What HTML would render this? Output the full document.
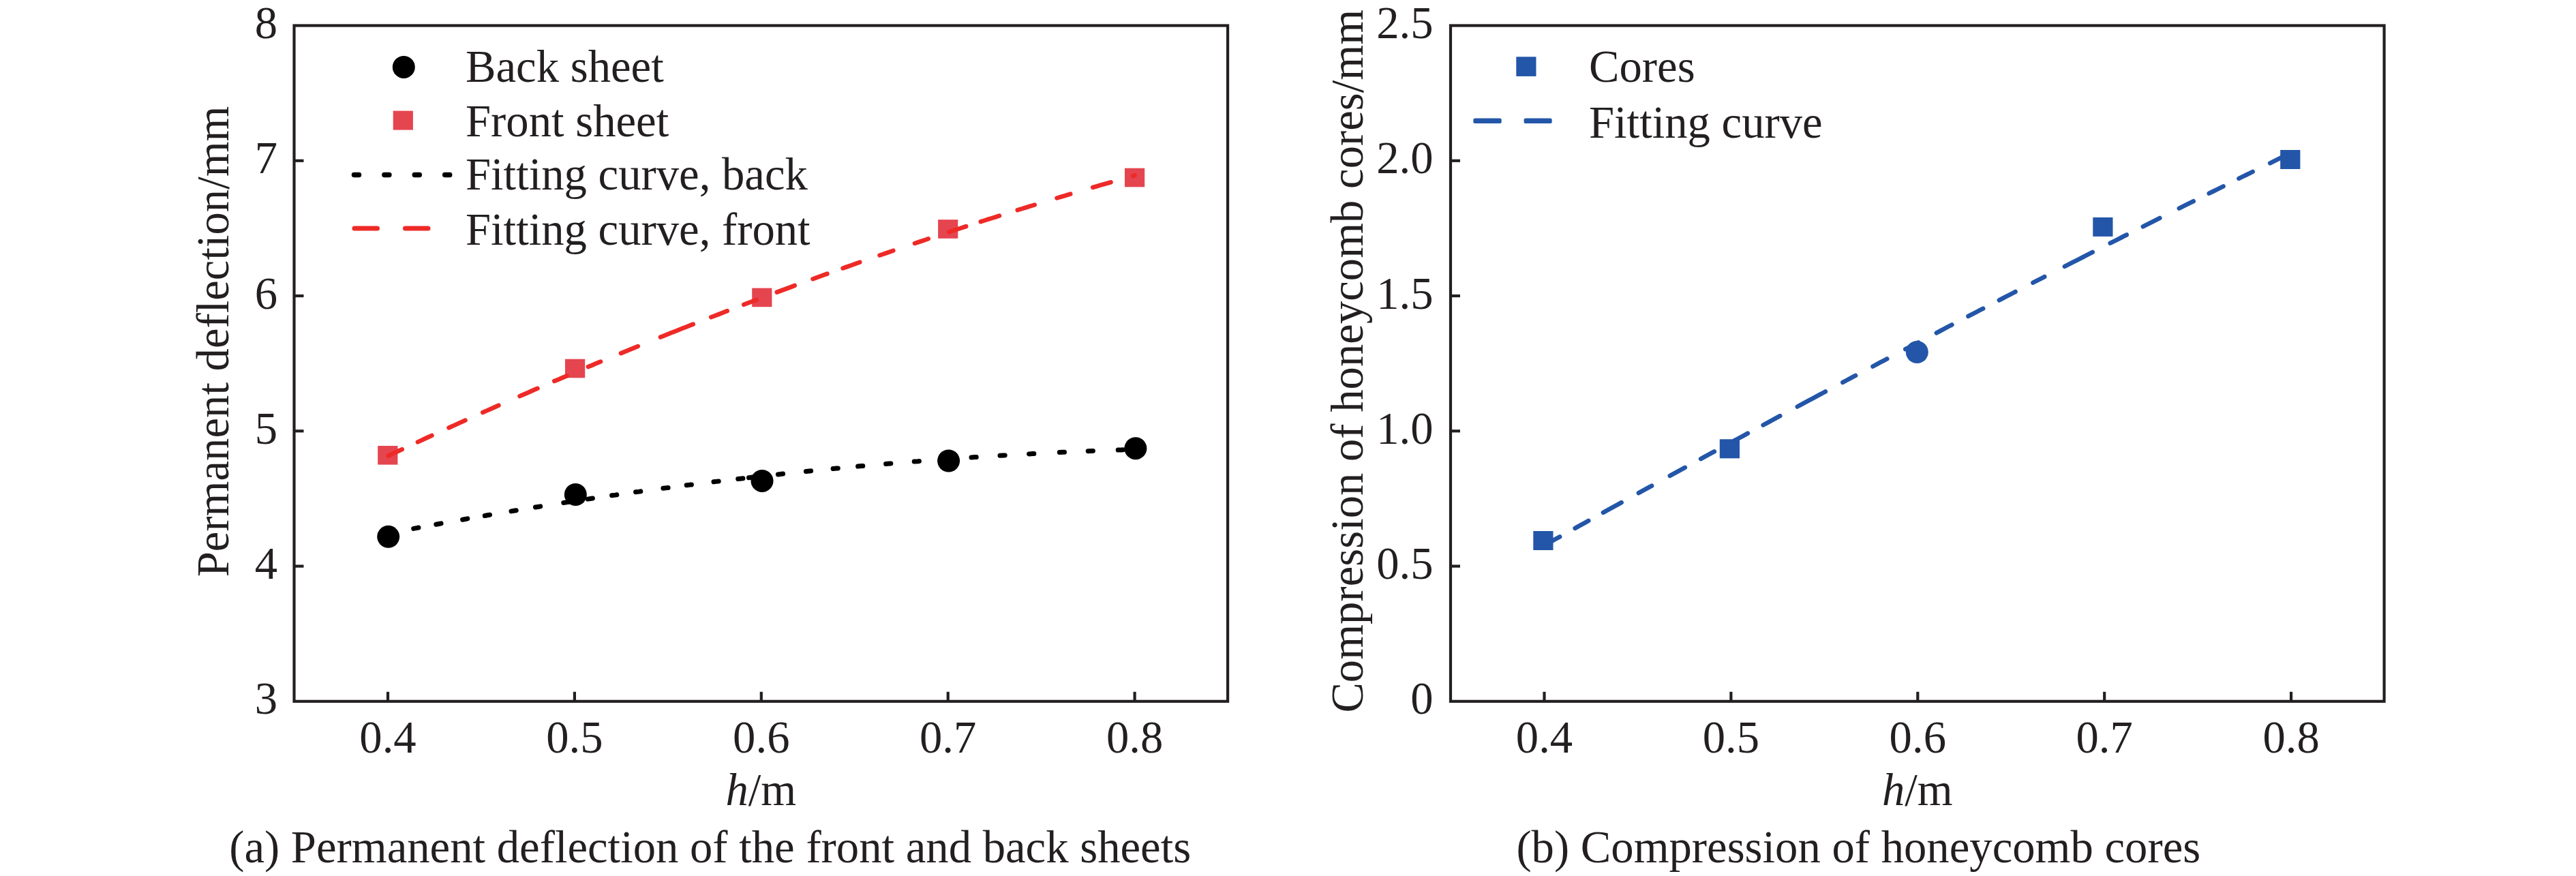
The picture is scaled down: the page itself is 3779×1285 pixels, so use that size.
<!DOCTYPE html>
<html><head><meta charset="utf-8"><style>
html,body{margin:0;padding:0;background:#fff;}
body{width:3779px;height:1285px;overflow:hidden;}
svg{display:block;}
text{font-family:"Liberation Serif",serif;font-size:66.7px;fill:#231F20;}
</style></head><body>
<svg width="3779" height="1285" viewBox="0 0 3779 1285">
<rect x="0" y="0" width="3779" height="1285" fill="#fff"/>
<rect x="431.5" y="37.5" width="1369.60" height="991.30" fill="none" stroke="#231F20" stroke-width="4.2"/>
<line x1="569.00" y1="1028.8" x2="569.00" y2="1014.8" stroke="#231F20" stroke-width="4.2"/>
<line x1="842.90" y1="1028.8" x2="842.90" y2="1014.8" stroke="#231F20" stroke-width="4.2"/>
<line x1="1116.80" y1="1028.8" x2="1116.80" y2="1014.8" stroke="#231F20" stroke-width="4.2"/>
<line x1="1390.70" y1="1028.8" x2="1390.70" y2="1014.8" stroke="#231F20" stroke-width="4.2"/>
<line x1="1664.60" y1="1028.8" x2="1664.60" y2="1014.8" stroke="#231F20" stroke-width="4.2"/>
<line x1="431.5" y1="830.54" x2="445.5" y2="830.54" stroke="#231F20" stroke-width="4.2"/>
<line x1="431.5" y1="632.28" x2="445.5" y2="632.28" stroke="#231F20" stroke-width="4.2"/>
<line x1="431.5" y1="434.02" x2="445.5" y2="434.02" stroke="#231F20" stroke-width="4.2"/>
<line x1="431.5" y1="235.76" x2="445.5" y2="235.76" stroke="#231F20" stroke-width="4.2"/>
<rect x="2128.0" y="37.5" width="1369.60" height="991.30" fill="none" stroke="#231F20" stroke-width="4.2"/>
<line x1="2265.50" y1="1028.8" x2="2265.50" y2="1014.8" stroke="#231F20" stroke-width="4.2"/>
<line x1="2539.40" y1="1028.8" x2="2539.40" y2="1014.8" stroke="#231F20" stroke-width="4.2"/>
<line x1="2813.30" y1="1028.8" x2="2813.30" y2="1014.8" stroke="#231F20" stroke-width="4.2"/>
<line x1="3087.20" y1="1028.8" x2="3087.20" y2="1014.8" stroke="#231F20" stroke-width="4.2"/>
<line x1="3361.10" y1="1028.8" x2="3361.10" y2="1014.8" stroke="#231F20" stroke-width="4.2"/>
<line x1="2128.0" y1="830.54" x2="2142.0" y2="830.54" stroke="#231F20" stroke-width="4.2"/>
<line x1="2128.0" y1="632.28" x2="2142.0" y2="632.28" stroke="#231F20" stroke-width="4.2"/>
<line x1="2128.0" y1="434.02" x2="2142.0" y2="434.02" stroke="#231F20" stroke-width="4.2"/>
<line x1="2128.0" y1="235.76" x2="2142.0" y2="235.76" stroke="#231F20" stroke-width="4.2"/>
<text x="569.00" y="1103.8" text-anchor="middle">0.4</text>
<text x="2265.50" y="1103.8" text-anchor="middle">0.4</text>
<text x="842.90" y="1103.8" text-anchor="middle">0.5</text>
<text x="2539.40" y="1103.8" text-anchor="middle">0.5</text>
<text x="1116.80" y="1103.8" text-anchor="middle">0.6</text>
<text x="2813.30" y="1103.8" text-anchor="middle">0.6</text>
<text x="1390.70" y="1103.8" text-anchor="middle">0.7</text>
<text x="3087.20" y="1103.8" text-anchor="middle">0.7</text>
<text x="1664.60" y="1103.8" text-anchor="middle">0.8</text>
<text x="3361.10" y="1103.8" text-anchor="middle">0.8</text>
<text x="407" y="1047.30" text-anchor="end">3</text>
<text x="407" y="849.04" text-anchor="end">4</text>
<text x="407" y="650.78" text-anchor="end">5</text>
<text x="407" y="452.52" text-anchor="end">6</text>
<text x="407" y="254.26" text-anchor="end">7</text>
<text x="407" y="56.00" text-anchor="end">8</text>
<text x="2102.50" y="1047.30" text-anchor="end">0</text>
<text x="2102.50" y="849.04" text-anchor="end">0.5</text>
<text x="2102.50" y="650.78" text-anchor="end">1.0</text>
<text x="2102.50" y="452.52" text-anchor="end">1.5</text>
<text x="2102.50" y="254.26" text-anchor="end">2.0</text>
<text x="2102.50" y="56.00" text-anchor="end">2.5</text>
<text x="1116.30" y="1181" text-anchor="middle"><tspan font-style="italic">h</tspan>/m</text>
<text x="2812.80" y="1181" text-anchor="middle"><tspan font-style="italic">h</tspan>/m</text>
<text transform="translate(335.3,500.90) rotate(-90)" x="0" y="0" text-anchor="middle">Permanent deflection/mm</text>
<text transform="translate(1998.5,529.80) rotate(-90)" x="0" y="0" text-anchor="middle">Compression of honeycomb cores/mm</text>
<text x="1041.70" y="1264.6" text-anchor="middle">(a) Permanent deflection of the front and back sheets</text>
<text x="2726.30" y="1264.8" text-anchor="middle">(b) Compression of honeycomb cores</text>
<circle cx="569.7" cy="787.3" r="16.5" fill="#000"/>
<circle cx="844.3" cy="725.5" r="16.5" fill="#000"/>
<circle cx="1118.0" cy="705.4" r="16.5" fill="#000"/>
<circle cx="1391.6" cy="676.0" r="16.5" fill="#000"/>
<circle cx="1665.9" cy="657.7" r="16.5" fill="#000"/>
<rect x="554.20" y="654.00" width="29.2" height="27.6" fill="#E5454F"/>
<rect x="829.00" y="526.70" width="29.2" height="27.6" fill="#E5454F"/>
<rect x="1103.20" y="422.60" width="29.2" height="27.6" fill="#E5454F"/>
<rect x="1376.10" y="322.20" width="29.2" height="27.6" fill="#E5454F"/>
<rect x="1650.00" y="246.70" width="29.2" height="27.6" fill="#E5454F"/>
<rect x="2249.30" y="779.00" width="29.2" height="28" fill="#2356A8"/>
<rect x="2522.80" y="644.30" width="29.2" height="28" fill="#2356A8"/>
<circle cx="2812.3" cy="516.5" r="16.5" fill="#2356A8"/>
<rect x="3070.30" y="318.90" width="29.2" height="28" fill="#2356A8"/>
<rect x="3345.20" y="220.00" width="29.2" height="28" fill="#2356A8"/>
<path d="M569.9 668.5 L575.3 665.9 L580.8 663.3 L586.3 660.8 L589.8 659.1M612.9 648.4 L618.3 645.9 L623.8 643.3 L629.3 640.8 L633.5 638.9M658.5 627.4 L663.8 625.1 L669.2 622.6 L674.7 620.1 L680.2 617.6 L682.5 616.6M708.2 605.0 L713.6 602.6 L719.1 600.2 L724.6 597.8 L730.1 595.3 L731.5 594.7M762.5 581.1 L767.9 578.7 L773.3 576.4 L778.8 574.0 L784.3 571.6 L788.5 569.8M813.2 559.1 L818.5 556.9 L824.0 554.5 L829.5 552.2 L831.5 551.3M862.9 538.1 L868.1 535.9 L873.6 533.6 L879.1 531.3 L881.1 530.5M910.9 518.2 L916.3 515.9 L921.8 513.7 L927.3 511.4 L932.7 509.2 L935.8 508.0M968.9 494.6 L974.1 492.5 L979.6 490.3 L985.1 488.1 L990.5 486.0 L996.0 483.8 L1001.5 481.6 L1007.0 479.4 L1012.4 477.3 L1016.8 475.6M1043.2 465.2 L1048.6 463.2 L1054.1 461.1 L1059.6 458.9 L1065.0 456.8 L1066.8 456.2M1091.2 446.8 L1096.5 444.8 L1102.0 442.7 L1107.5 440.7 L1109.8 439.8M1139.7 428.6 L1145.0 426.6 L1150.5 424.6 L1156.0 422.6 L1161.4 420.6 L1165.8 418.9M1192.5 409.2 L1197.9 407.3 L1203.4 405.3 L1208.8 403.3 L1213.5 401.6M1236.5 393.5 L1241.7 391.6 L1247.2 389.7 L1252.7 387.7 L1258.1 385.8 L1261.3 384.7M1290.5 374.5 L1295.7 372.7 L1301.1 370.9 L1306.6 369.0 L1310.3 367.7M1342.0 357.0 L1347.4 355.1 L1352.9 353.3 L1358.4 351.5 L1361.8 350.3M1392.2 340.3 L1397.5 338.5 L1403.0 336.7 L1408.5 335.0 L1414.0 333.2 L1417.2 332.2M1438.7 325.2 L1444.1 323.5 L1449.6 321.7 L1455.1 320.0 L1460.5 318.3 L1466.0 316.5 L1466.0 316.5M1492.7 308.2 L1498.1 306.5 L1503.5 304.8 L1509.0 303.1 L1514.5 301.5 L1517.7 300.5M1550.5 290.5 L1555.9 288.9 L1561.3 287.3 L1566.8 285.7 L1570.3 284.6M1603.2 274.9 L1608.7 273.3 L1614.2 271.7 L1619.7 270.2 L1625.2 268.6 L1629.5 267.3M1662.2 258.0 L1664.6 257.4" fill="none" stroke="#EE2A27" stroke-width="6.5" stroke-linecap="round" stroke-linejoin="round"/>
<path d="M569.5 782.5 L574.8 781.5 L576.7 781.1M606.7 775.4 L612.0 774.4 L613.9 774.0M639.8 769.2 L645.1 768.2 L647.0 767.9M678.6 762.2 L684.0 761.2 L685.8 760.9M711.3 756.5 L716.6 755.5 L718.5 755.2M750.0 749.9 L755.3 749.0 L757.2 748.7M785.5 744.0 L790.9 743.2 L792.7 742.9M826.8 737.5 L832.2 736.6 L834.0 736.4M862.2 732.1 L867.6 731.3 L869.4 731.0M897.6 726.8 L902.9 726.1 L904.8 725.8M932.6 721.8 L937.9 721.1 L939.8 720.8M972.9 716.3 L978.2 715.6 L980.1 715.4M1007.2 711.8 L1012.4 711.1 L1014.4 710.9M1047.0 706.8 L1052.4 706.1 L1054.2 705.9M1082.7 702.5 L1088.0 701.9 L1089.9 701.7M1098.5 700.7 L1103.9 700.0 L1105.7 699.8M1141.4 695.9 L1146.7 695.3 L1148.6 695.1M1182.4 691.5 L1187.7 691.0 L1189.6 690.8M1222.1 687.6 L1227.5 687.0 L1229.3 686.9M1258.6 684.1 L1263.9 683.6 L1265.8 683.5M1299.6 680.5 L1305.0 680.0 L1306.8 679.9M1341.2 677.1 L1346.6 676.7 L1348.4 676.5M1382.5 673.9 L1388.0 673.5 L1389.7 673.4M1425.0 671.0 L1430.4 670.6 L1432.2 670.5M1467.0 668.3 L1472.3 668.0 L1474.2 667.9M1509.6 665.9 L1515.1 665.6 L1516.8 665.5M1554.3 663.6 L1559.7 663.3 L1561.5 663.3M1596.2 661.7 L1601.6 661.5 L1603.4 661.4M1640.2 660.1 L1645.4 659.9 L1647.4 659.8" fill="none" stroke="#000" stroke-width="7" stroke-linecap="round" stroke-linejoin="round"/>
<path d="M2265.7 799.9 L2271.0 797.0 L2276.5 793.9 L2281.9 790.8 L2287.4 787.8 L2288.2 787.4M2310.6 774.9 L2315.9 771.9 L2321.4 768.8 L2326.9 765.8 L2330.3 763.9M2351.9 751.9 L2357.3 748.9 L2362.7 745.9 L2368.2 742.9 L2373.7 739.8 L2378.6 737.1M2403.9 723.1 L2409.3 720.2 L2414.8 717.2 L2420.3 714.1 L2423.1 712.6M2449.8 697.9 L2455.3 694.9 L2460.8 691.9 L2466.3 688.9 L2471.7 685.9 L2471.9 685.8M2495.1 673.2 L2500.5 670.2 L2506.0 667.2 L2511.5 664.2 L2514.9 662.3M2544.2 646.4 L2549.5 643.5 L2555.0 640.6 L2560.5 637.6 L2563.9 635.7M2586.6 623.5 L2592.0 620.6 L2597.5 617.6 L2602.9 614.7 L2608.4 611.7 L2611.3 610.1M2636.7 596.5 L2642.1 593.6 L2647.6 590.7 L2653.1 587.7 L2658.5 584.8 L2664.0 581.9 L2669.5 578.9 L2675.0 576.0 L2677.9 574.4M2703.3 560.9 L2708.7 558.0 L2714.1 555.1 L2719.6 552.2 L2722.1 550.9M2747.4 537.5 L2752.8 534.6 L2758.2 531.7 L2763.7 528.8 L2768.3 526.4M2795.2 512.2 L2800.7 509.3 L2806.2 506.4 L2811.7 503.6 L2814.2 502.3M2840.8 488.3 L2846.2 485.5 L2851.6 482.6 L2857.1 479.7 L2862.6 476.9 L2863.4 476.4M2887.4 463.9 L2892.7 461.1 L2898.2 458.3 L2903.7 455.4 L2909.2 452.6M2932.8 440.3 L2938.2 437.5 L2943.7 434.7 L2949.2 431.9 L2954.6 429.0 L2956.6 428.0M2982.4 414.7 L2987.8 411.9 L2993.3 409.1 L2998.7 406.3 L2999.3 406.0M3028.8 390.8 L3034.1 388.2 L3039.5 385.4 L3045.0 382.6 L3050.5 379.8 L3056.0 377.0 L3061.5 374.2 L3066.9 371.4 L3069.8 369.9M3095.7 356.7 L3100.9 354.1 L3106.4 351.3 L3111.9 348.5 L3117.3 345.7 L3119.8 344.5M3143.8 332.3 L3149.1 329.7 L3154.6 326.9 L3160.1 324.1 L3165.5 321.4 L3168.4 319.9M3196.8 305.6 L3202.2 302.9 L3207.7 300.2 L3213.2 297.4 L3217.8 295.2M3240.7 283.7 L3246.1 281.0 L3251.5 278.3 L3257.0 275.6 L3261.6 273.3M3284.4 261.9 L3289.9 259.2 L3295.4 256.5 L3300.8 253.8 L3304.7 251.9M3330.2 239.3 L3335.6 236.6 L3341.1 233.9 L3346.6 231.2 L3352.1 228.5 L3357.5 225.8 L3361.1 224.0" fill="none" stroke="#2356A8" stroke-width="6.5" stroke-linecap="round" stroke-linejoin="round"/>
<circle cx="592.3" cy="98.4" r="16.5" fill="#000"/>
<rect x="576.70" y="162.60" width="29.2" height="28" fill="#E5454F"/>
<line x1="519.5" y1="256.4" x2="662" y2="256.4" stroke="#000" stroke-width="7.5" stroke-linecap="round" stroke-dasharray="7 37.4"/>
<line x1="520" y1="335" x2="628" y2="335" stroke="#EE2A27" stroke-width="7" stroke-linecap="round" stroke-dasharray="33.5 41"/>
<text x="683" y="120.2">Back sheet</text>
<text x="683" y="199.8">Front sheet</text>
<text x="683" y="278.4">Fitting curve, back</text>
<text x="683" y="358.7">Fitting curve, front</text>
<rect x="2224.30" y="83.30" width="29.2" height="28.6" fill="#2356A8"/>
<rect x="2161.4" y="173.4" width="41.3" height="7.6" rx="2.6" fill="#2356A8"/>
<rect x="2235.6" y="173.4" width="41.1" height="7.6" rx="2.6" fill="#2356A8"/>
<text x="2331" y="120">Cores</text>
<text x="2331" y="202.2">Fitting curve</text>
</svg>
</body></html>
